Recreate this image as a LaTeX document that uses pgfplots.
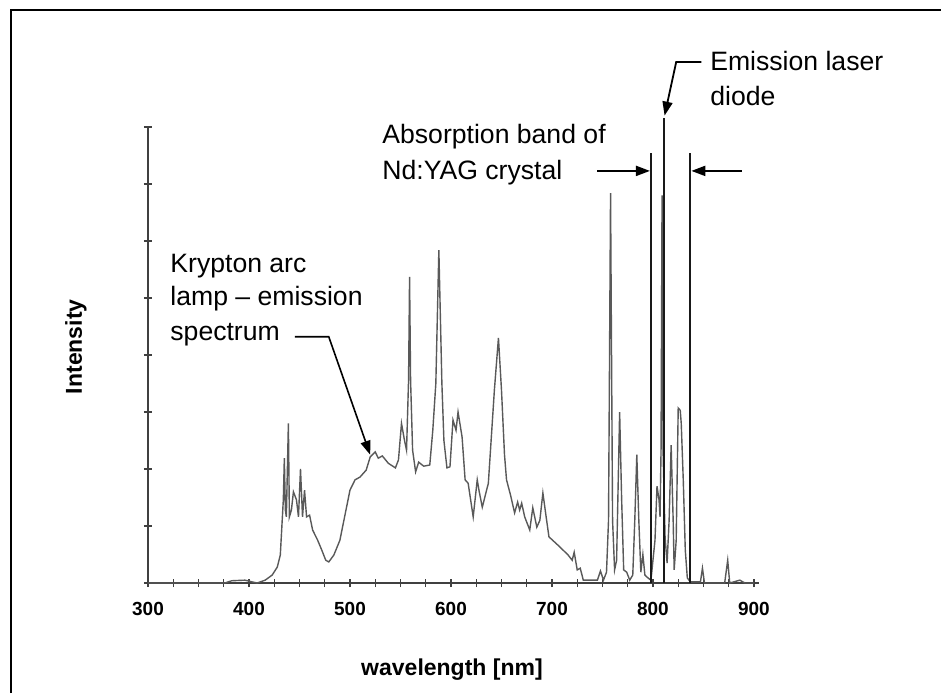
\documentclass[border=0pt]{standalone}
\usepackage{fontspec}
\setmainfont{Liberation Sans}
\usepackage{pgfplots}
\pgfplotsset{compat=1.18}
\usetikzlibrary{arrows.meta}
\begin{document}
\begin{tikzpicture}[x=1pt,y=1pt]
\path[use as bounding box] (0,0) rectangle (470.5,346.5);
% frame of the scanned figure (only left and top edges visible)
\draw[line width=1.3pt] (5.5,0) -- (5.5,341.5) -- (470.5,341.5);
\begin{axis}[
  at={(74pt,55pt)}, anchor=south west,
  scale only axis, width=305.5pt, height=228pt,
  xmin=300, xmax=905, ymin=0, ymax=8,
  axis lines*=left,
  axis line style={black!75, line width=0.8pt},
  xtick={300,400,...,900}, minor x tick num=3,
  ytick={0,1,...,8}, yticklabels={},
  tick align=center, major tick length=4pt, minor tick length=4pt,
  every tick/.style={black!75, line width=0.6pt},
  xticklabel style={font=\fontsize{9.5}{11}\selectfont\bfseries, yshift=-4pt},
  /pgf/number format/assume math mode=true,
  xlabel={wavelength [nm]}, ylabel={Intensity},
  label style={font=\fontsize{11.5}{13}\selectfont\bfseries},
  xlabel style={at={(axis description cs:0.4975,-0.19)}, anchor=center},
  ylabel style={at={(axis description cs:-0.118,0.518)}, anchor=center},
  clip=false,
]
% krypton arc lamp emission spectrum
\addplot[black!65, line width=0.7pt, sharp plot] coordinates {
(300,0) (376,0) (383,0.04) (396,0.05) (403,0.02) (408,0) (416,0.05) (423,0.14)
(428,0.28) (431,0.49) (434,1.46) (435,2.19) (436,1.28) (437,1.16) (439,2.8)
(440,1.16) (442,1.28) (444,1.6) (447,1.46) (449,1.16) (451,2.0) (453,1.16)
(455,1.63) (457,1.16) (460,1.19) (463,0.93) (468,0.75) (472,0.58) (476,0.4)
(479,0.37) (484,0.49) (490,0.75) (495,1.19) (500,1.63) (505,1.81) (510,1.86)
(516,1.98) (520,2.21) (525,2.3) (528,2.19) (532,2.23) (538,2.1) (545,2.02)
(548,2.16) (551,2.8) (554,2.5) (556,2.33) (558,3.56) (559,5.37) (560,3.56)
(562,2.33) (565,1.95) (568,2.12) (573,2.05) (579,2.07) (582,2.68) (585,3.5)
(588,5.84) (591,3.5) (593,2.5) (596,2.02) (599,2.04) (602,2.86) (605,2.68)
(607,3.0) (611,2.56) (614,1.81) (617,1.75) (622,1.16) (626,1.81) (628,1.6)
(631,1.33) (637,1.75) (643,3.39) (647,4.3) (650,3.39) (653,2.25) (655,1.81)
(659,1.54) (663,1.23) (666,1.42) (668,1.28) (670,1.4) (673,1.16) (678,0.93)
(681,1.32) (685,0.98) (688,1.1) (691,1.58) (694,1.19) (697,0.81) (708,0.63)
(716,0.49) (720,0.4) (722,0.54) (725,0.23) (728,0.26) (731,0.05) (745,0.05)
(748,0.21) (751,0.05) (754,0.19) (756,1.1) (758,6.84) (760,1.1) (762,0.23)
(764,0.4) (767,3.0) (769,1.46) (771,0.23) (774,0.19) (777,0.05) (780,0.14)
(782,1.1) (784,2.25) (786,1.1) (788,0.19) (790,0.5) (792,0.14) (795,0.09)
(798,0.05) (802,0.75) (804,1.7) (806,1.46) (807,1.16) (808,2.33) (809,6.8)
(810,2.33) (812,0.8) (814,0.35) (816,1.1) (818,2.42) (820,1.1) (821,0.23)
(823,0.75) (825,3.07) (827,3.03) (828,2.8) (830,1.81) (832,0.58) (834,0.09)
(837,0.02) (847,0.02) (849,0.26) (851,0) (871,0) (874,0.4) (876,0) (886,0.05)
(891,0) (900,0)
};
% absorption band limits and laser diode emission line
\addplot[black!90, line width=1pt] coordinates {(798,0) (798,7.55)};
\addplot[black!90, line width=1pt] coordinates {(811,0) (811,8.15)};
\addplot[black!90, line width=1pt] coordinates {(837,0) (837,7.55)};

% annotations
\begin{scope}[font=\fontsize{13.3}{15}\selectfont]
\node[anchor=base west, inner sep=0pt] at (axis cs:321.8,5.456) {Krypton arc};
\node[anchor=base west, inner sep=0pt] at (axis cs:321.8,4.86) {lamp -- emission};
\node[anchor=base west, inner sep=0pt] at (axis cs:321.8,4.26) {spectrum};
\node[anchor=base west, inner sep=0pt] at (axis cs:531.7,7.71) {Absorption band of};
\node[anchor=base west, inner sep=0pt] at (axis cs:531.7,7.08) {Nd:YAG crystal};
\node[anchor=base west, inner sep=0pt] at (axis cs:856.4,8.99) {Emission laser};
\node[anchor=base west, inner sep=0pt] at (axis cs:856.4,8.386) {diode};
\end{scope}
\draw[line width=0.8pt, -{Triangle[length=7pt,width=5pt]}]
  (axis cs:445.5,4.32) -- (axis cs:479,4.32) -- (axis cs:520,2.25);
\draw[line width=1pt, -{Triangle[length=7pt,width=5pt]}]
  (axis cs:744.6,7.23) -- (axis cs:797,7.23);
\draw[line width=1pt, -{Triangle[length=7pt,width=5pt]}]
  (axis cs:888,7.23) -- (axis cs:838,7.23);
\draw[line width=0.9pt, -{Triangle[length=7pt,width=5pt]}]
  (axis cs:848,9.14) -- (axis cs:823,9.14) -- (axis cs:811.5,8.2);
\end{axis}
\end{tikzpicture}
\end{document}
